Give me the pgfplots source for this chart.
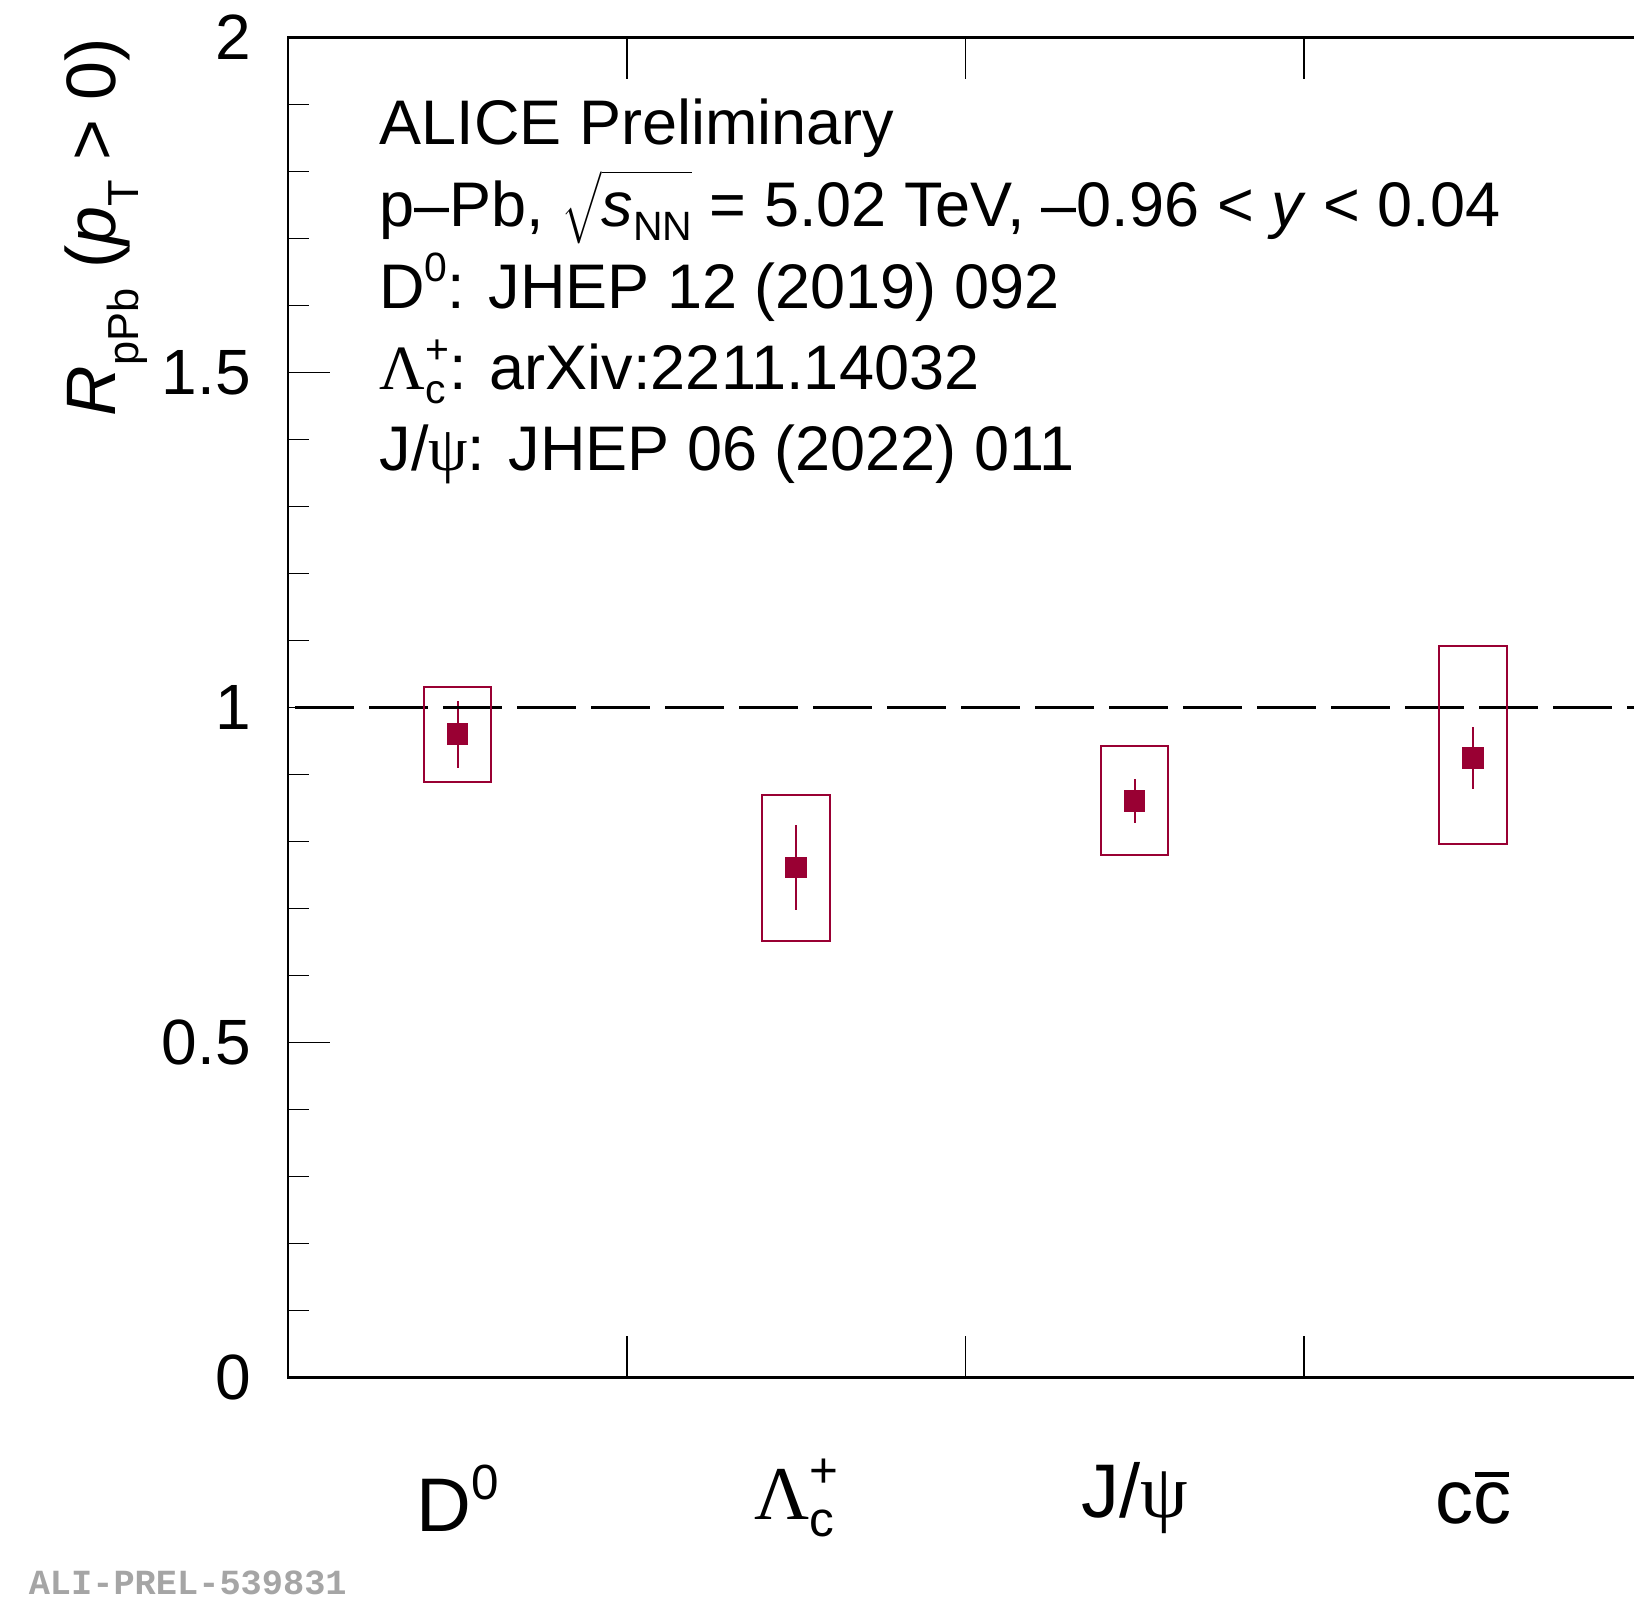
\documentclass[border=0pt]{standalone}
\usepackage{pgfplots}
\pgfplotsset{compat=1.18}
\usepackage{pgfplotstable}
\usepackage{fontspec}
\setmainfont{Liberation Sans}
\newfontfamily\grk{Liberation Serif}
\newfontfamily\monof{Liberation Mono}
\definecolor{alired}{RGB}{153,0,51}
\definecolor{idgray}{RGB}{165,165,165}

% scripts scaled relative to the running font size
\newcommand{\sps}[1]{\raisebox{0.42em}{\scalebox{0.65}{#1}}}
\newcommand{\sbs}[1]{\raisebox{-0.22em}{\scalebox{0.65}{#1}}}
\newcommand{\spsb}[2]{\makebox[0pt][l]{\sbs{#1}}\sps{#2}}
\newcommand{\Lc}{{\grk Λ}\spsb{c}{+}}
\newcommand{\Jpsi}{J/{\grk ψ}}
\newcommand{\ccbar}{c\makebox[0pt][l]{\hspace{0.03em}\rule[0.62em]{0.44em}{0.065em}}c}
% systematic uncertainty given as up/down
\def\splitsyst#1/#2\relax{\def\syu{#1}\def\syd{#2}}

% R_pPb integrated over pT: value, statistical and systematic (up/down) uncertainty
\pgfplotstableread{
x    y     stat   syst
0.5  0.960 0.050  0.071/0.071
1.5  0.761 0.063  0.108/0.110
2.5  0.860 0.033  0.082/0.081
3.5  0.924 0.046  0.168/0.128
}\rppb

\begin{document}
\begin{tikzpicture}
\begin{axis}[
  at={(0pt,0pt)}, anchor=south west,
  scale only axis, width=338.5pt, height=335pt,
  xmin=0, xmax=4, ymin=0, ymax=2,
  axis line style={line width=0.6pt},
  tick style={line width=0.35pt, black},
  tick align=inside,
  major tick length=10.4pt, minor tick length=5.2pt,
  xtick={1,2,3}, xticklabels={,,},
  xtick pos=both,
  ytick={0,0.5,1,1.5,2}, yticklabels={0,0.5,1,1.5,2},
  minor y tick num=4,
  ytick pos=left,
  yticklabel style={anchor=east, inner sep=0pt, xshift=-9.15pt, font=\fontsize{16}{19}\selectfont},
  extra x ticks={0.5,1.5,2.5,3.5},
  extra x tick labels={{D\sps{0}},{\Lc},{\Jpsi},{\ccbar}},
  extra x tick style={major tick length=0pt,
    xticklabel style={anchor=center, inner sep=0pt, yshift=-30.2pt, font=\fontsize{19}{22}\selectfont}},
]
% systematic boxes and central points
\addplot[
  alired, only marks, scatter, point meta=explicit symbolic,
  mark=square*, mark size=2.5pt, mark options={draw=none, fill=alired},
  scatter/@pre marker code/.code={%
    \expandafter\splitsyst\pgfplotspointmeta\relax
    \draw[alired, line width=0.5pt] (axis direction cs:-0.1,-\syd) rectangle (axis direction cs:0.1,\syu);},
  scatter/@post marker code/.code={},
] table[x=x, y=y, meta=syst]{\rppb};
% statistical bars
\addplot[draw=none, mark=none,
  error bars/.cd, y dir=both, y explicit, error mark=none,
  error bar style={line width=0.5pt, alired},
] table[x=x, y=y, y error=stat]{\rppb};
% unity reference
\addplot[black, line width=0.83pt, dash pattern=on 14.75pt off 3.75pt] coordinates {(0.02,1) (4,1)};
\end{axis}

\begin{scope}[every node/.style={inner sep=0pt, anchor=base west, font=\fontsize{15.75}{19}\selectfont}]
\node at (22.6pt,308.1pt) {ALICE Preliminary};
\node at (22.6pt,287.7pt) {p–Pb, $\sqrt{\mbox{\rule{0pt}{0.76em}\textit{s}\sbs{NN}}}$ = 5.02 TeV, –0.96 < \textit{y} < 0.04};
\node at (22.6pt,267.3pt) {D\sps{0}: JHEP 12 (2019) 092};
\node at (22.6pt,246.95pt) {\Lc: arXiv:2211.14032};
\node at (22.6pt,226.6pt) {\Jpsi: JHEP 06 (2022) 011};
\end{scope}

\node[rotate=90, anchor=base east, inner sep=0pt, font=\fontsize{17.5}{21}\selectfont]
  at (-43.3pt,335pt) {\textit{R}\raisebox{-0.33em}{\scalebox{0.62}{pPb}} (\textit{p}\raisebox{-0.33em}{\scalebox{0.62}{T}} > 0)};

\node[anchor=base west, inner sep=0pt, text=idgray, font=\monof\bfseries\fontsize{8.83}{10}\selectfont]
  at (-65.08pt,-54.18pt) {ALI-PREL-539831};

\pgfresetboundingbox
\useasboundingbox (-72.075pt,-54.675pt) rectangle (336.425pt,344.325pt);
\end{tikzpicture}
\end{document}
